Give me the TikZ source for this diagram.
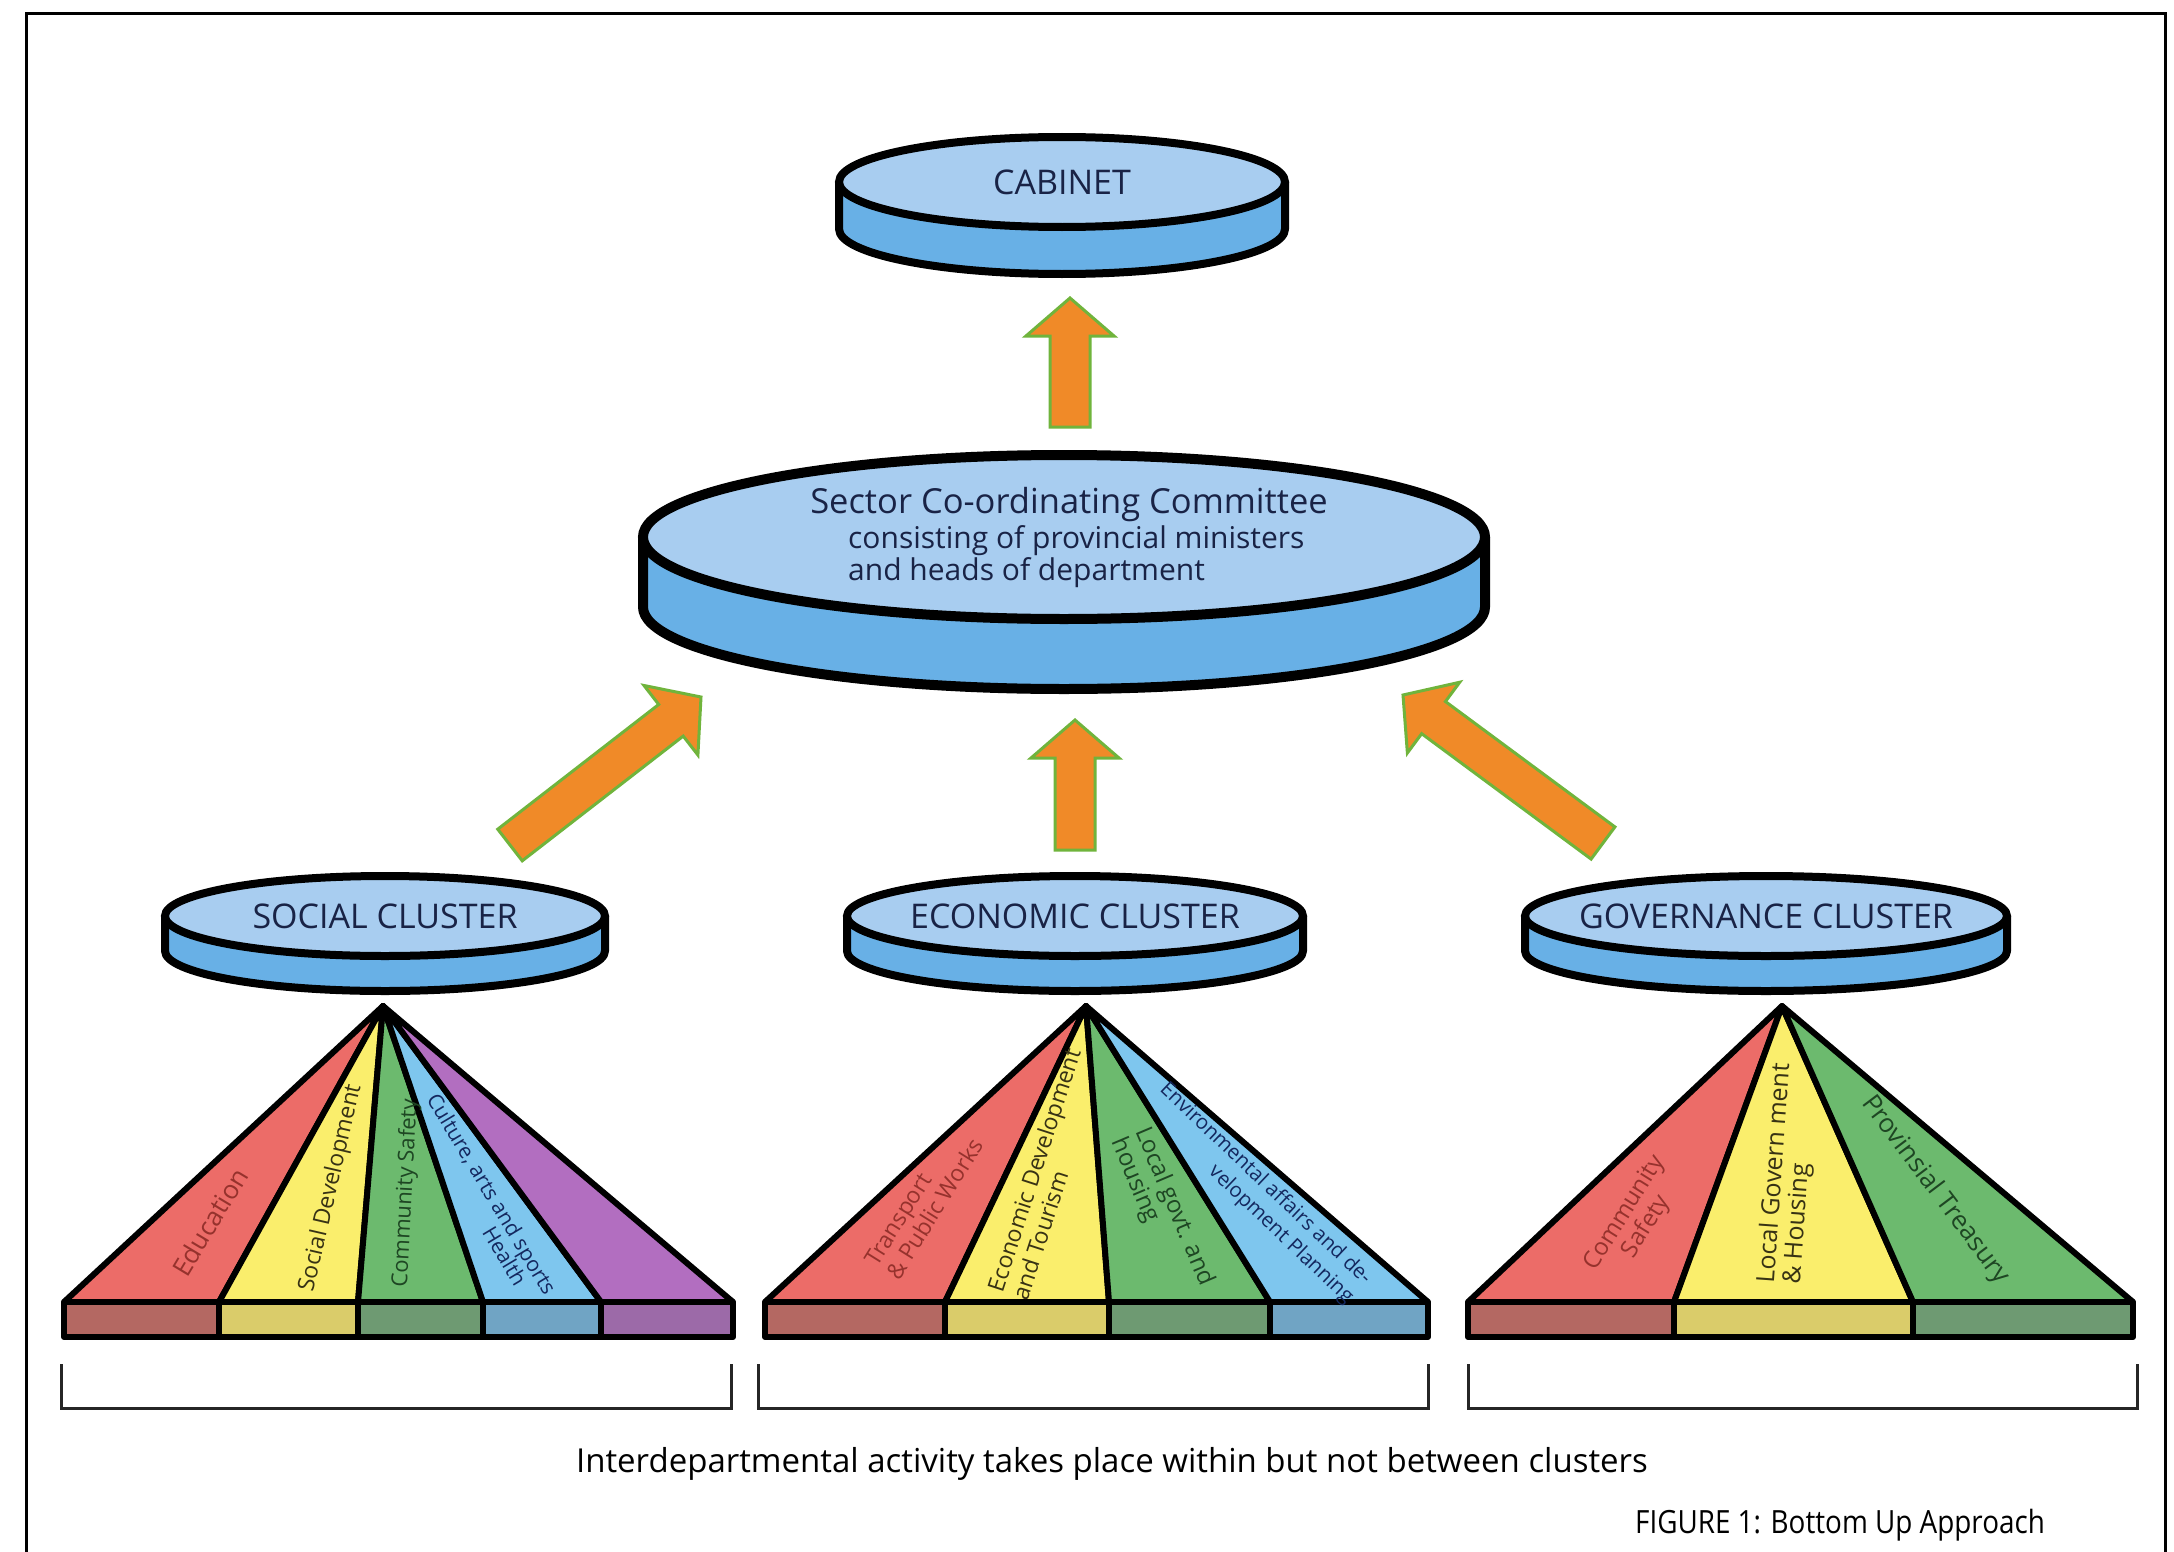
\documentclass[tikz,border=0pt]{standalone}
\usepackage{fontspec}
\setmainfont{Open Sans}
\usetikzlibrary{calc,shapes.geometric}
\definecolor{topblue}{RGB}{168,205,240}
\definecolor{sideblue}{RGB}{104,176,230}
\definecolor{navy}{RGB}{25,35,70}
\definecolor{arrowfill}{RGB}{240,138,40}
\definecolor{arrowedge}{RGB}{112,180,60}
\definecolor{fred}{RGB}{236,108,104}
\definecolor{fyellow}{RGB}{250,238,108}
\definecolor{fgreen}{RGB}{108,186,110}
\definecolor{fblue}{RGB}{126,198,238}
\definecolor{fpurple}{RGB}{178,110,192}
\definecolor{bred}{RGB}{180,104,98}
\definecolor{byellow}{RGB}{218,204,106}
\definecolor{bgreen}{RGB}{110,154,114}
\definecolor{bblue}{RGB}{112,164,196}
\definecolor{bpurple}{RGB}{156,106,168}
\definecolor{tred}{RGB}{150,50,45}
\definecolor{tyel}{RGB}{55,50,20}
\definecolor{tgrn}{RGB}{30,70,35}
\definecolor{tblu}{RGB}{20,40,95}
\newcommand{\mydisc}[9]{%
  \fill[sideblue] (#2-#4,#3) -- (#2-#4,#3+#6) arc[start angle=180,end angle=0,x radius=#4,y radius=#5] -- (#2+#4,#3) -- cycle;
  \draw[line width=#8, line join=round] (#2-#4,#3) -- (#2-#4,#3+#6) arc[start angle=180,end angle=0,x radius=#4,y radius=#5] -- (#2+#4,#3);
  \node[ellipse, draw, line width=#8, fill=topblue, inner sep=0pt, minimum width=2*#4, minimum height=2*#5, text=navy, font=\fontsize{#9}{36}\selectfont] (#1) at (#2,#3) {\makebox[0pt]{#7}};
}
\newcommand{\fatarrow}[3]{%
  \coordinate (#3h) at ($(#2)!38pt!(#1)$);
  \filldraw[fatarrowstyle] ($(#1)!20pt!90:(#2)$) -- ($(#3h)!20pt!90:(#2)$) -- ($(#3h)!44pt!90:(#2)$) -- (#2) -- ($(#3h)!44pt!-90:(#2)$) -- ($(#3h)!20pt!-90:(#2)$) -- ($(#1)!20pt!-90:(#2)$) -- cycle;
}
\tikzset{
  fatarrowstyle/.style={fill=arrowfill, draw=arrowedge, line width=3pt, line join=miter},
  fanline/.style={draw=black, line width=6pt, line join=round},
  lbl/.style={font=\fontsize{#1}{26}\selectfont, inner sep=0pt},
  lbl/.default=23,
  bracketline/.style={line width=3pt, draw=black!85},
}
\begin{document}
\begin{tikzpicture}[x=1pt,y=-1pt]
\useasboundingbox (0,0) rectangle (2174,1552);
\fill[white] (0,0) rectangle (2174,1552);
% frame
\draw[line width=3pt] (26,1552) -- (26,14) -- (2165,14) -- (2165,1552);

% discs
\mydisc{cabinet}{1062}{182}{223}{45}{47}{CABINET}{8pt}{34}
\mydisc{sector}{1064}{537}{421}{82}{70}{}{10pt}{31}
\mydisc{social}{385}{916}{220}{40}{35}{SOCIAL CLUSTER}{8pt}{34}
\mydisc{economic}{1075}{916}{228}{40}{35}{ECONOMIC CLUSTER}{8pt}{34}
\mydisc{governance}{1766}{916}{241}{40}{35}{GOVERNANCE CLUSTER}{8pt}{34}

% sector text
\node[anchor=base, text=navy, inner sep=0pt, font=\fontsize{34.5}{36}\selectfont] (sectorA) at (1069,513) {Sector Co-ordinating Committee};
\node[anchor=base west, align=left, text=navy, inner sep=0pt, font=\fontsize{30}{28}\selectfont] (sectorB) at (848,580) {consisting of provincial ministers\\and heads of department};

% arrows
\coordinate (c1t) at (1070,427); \coordinate (c1p) at (1070,298);
\coordinate (c2t) at (1075,850); \coordinate (c2p) at (1075,720);
\coordinate (c3t) at (510,845);  \coordinate (c3p) at (701,697);
\coordinate (c4t) at (1603,843); \coordinate (c4p) at (1403,695);
\fatarrow{c1t}{c1p}{ca}
\fatarrow{c2t}{c2p}{cb}
\fatarrow{c3t}{c3p}{cc}
\fatarrow{c4t}{c4p}{cd}

% ---- social fan
\coordinate (sA) at (383,1006);
\coordinate (s0) at (64,1302);  \coordinate (s1) at (219,1302);
\coordinate (s2) at (358,1302); \coordinate (s3) at (483,1302);
\coordinate (s4) at (601,1302); \coordinate (s5) at (733,1302);
\filldraw[fanline, fill=fred] (sA) -- (s0) -- (s1) -- cycle;
\filldraw[fanline, fill=fyellow] (sA) -- (s1) -- (s2) -- cycle;
\filldraw[fanline, fill=fgreen] (sA) -- (s2) -- (s3) -- cycle;
\filldraw[fanline, fill=fblue] (sA) -- (s3) -- (s4) -- cycle;
\filldraw[fanline, fill=fpurple] (sA) -- (s4) -- (s5) -- cycle;
\filldraw[fanline, fill=bred] (s0) rectangle ($(s1)+(0,35)$);
\filldraw[fanline, fill=byellow] (s1) rectangle ($(s2)+(0,35)$);
\filldraw[fanline, fill=bgreen] (s2) rectangle ($(s3)+(0,35)$);
\filldraw[fanline, fill=bblue] (s3) rectangle ($(s4)+(0,35)$);
\filldraw[fanline, fill=bpurple] (s4) rectangle ($(s5)+(0,35)$);

% ---- economic fan
\coordinate (eA) at (1086,1006);
\coordinate (e0) at (765,1302);  \coordinate (e1) at (945,1302);
\coordinate (e2) at (1109,1302); \coordinate (e3) at (1270,1302);
\coordinate (e4) at (1428,1302);
\filldraw[fanline, fill=fred] (eA) -- (e0) -- (e1) -- cycle;
\filldraw[fanline, fill=fyellow] (eA) -- (e1) -- (e2) -- cycle;
\filldraw[fanline, fill=fgreen] (eA) -- (e2) -- (e3) -- cycle;
\filldraw[fanline, fill=fblue] (eA) -- (e3) -- (e4) -- cycle;
\filldraw[fanline, fill=bred] (e0) rectangle ($(e1)+(0,35)$);
\filldraw[fanline, fill=byellow] (e1) rectangle ($(e2)+(0,35)$);
\filldraw[fanline, fill=bgreen] (e2) rectangle ($(e3)+(0,35)$);
\filldraw[fanline, fill=bblue] (e3) rectangle ($(e4)+(0,35)$);

% ---- governance fan
\coordinate (gA) at (1782,1006);
\coordinate (g0) at (1468,1302); \coordinate (g1) at (1674,1302);
\coordinate (g2) at (1913,1302); \coordinate (g3) at (2133,1302);
\filldraw[fanline, fill=fred] (gA) -- (g0) -- (g1) -- cycle;
\filldraw[fanline, fill=fyellow] (gA) -- (g1) -- (g2) -- cycle;
\filldraw[fanline, fill=fgreen] (gA) -- (g2) -- (g3) -- cycle;
\filldraw[fanline, fill=bred] (g0) rectangle ($(g1)+(0,35)$);
\filldraw[fanline, fill=byellow] (g1) rectangle ($(g2)+(0,35)$);
\filldraw[fanline, fill=bgreen] (g2) rectangle ($(g3)+(0,35)$);

% labels social
\node[lbl=26, text=tred, rotate=59] (ledu) at (210,1222) {Education};
\node[lbl, text=tyel, rotate=77] (lsd) at (331,1188) {Social Development};
\node[lbl=22, text=tgrn, rotate=87] (lcs) at (406,1193) {Community Safety};
\node[lbl=21, text=tblu, rotate=-59] (lcul) at (490,1195) {Culture, arts and sports};
\node[lbl=21, text=tblu, rotate=-59] (lhea) at (505,1256) {Health};
% labels economic
\node[lbl, text=tred, rotate=58, align=left] (ltpw) at (924,1202) {Transport\\\& Public Works};
\node[lbl, text=tyel, rotate=72, align=left] (ledt) at (1046,1174) {Economic Development\\and Tourism};
\node[lbl=24, text=tgrn, rotate=-67, align=left] (llgh) at (1162,1212) {Local govt. and\\housing};
\node[lbl=20.5, text=tblu, rotate=-43.5, align=right, anchor=east] (lenv) at (1359,1291) {Environmental affairs and de-\\velopment Planning};
% labels governance
\node[lbl=24, text=tred, rotate=58, align=center] (lgcs) at (1636,1220) {Community\\Safety};
\node[lbl=25, text=tyel, rotate=86, align=left] (llgv) at (1788,1174) {Local Govern ment\\\& Housing};
\node[lbl=26, text=tgrn, rotate=-53] (lpt) at (1935,1190) {Provinsial Treasury};

% brackets
\draw[bracketline] (61,1364) -- (61,1408) -- (731,1408) -- (731,1364);
\draw[bracketline] (758,1364) -- (758,1408) -- (1428,1408) -- (1428,1364);
\draw[bracketline] (1468,1364) -- (1468,1408) -- (2137,1408) -- (2137,1364);

% captions
\node[anchor=base, inner sep=0pt, font=\fontsize{33}{38}\selectfont] (caption) at (1112,1472) {Interdepartmental activity takes place within but not between clusters};
\node[anchor=base, inner sep=0pt, font=\fontsize{32}{36}\selectfont] (figtitle) at (1840,1533) {\scalebox{0.87}[1]{FIGURE 1: Bottom Up Approach}};
\end{tikzpicture}
\end{document}
